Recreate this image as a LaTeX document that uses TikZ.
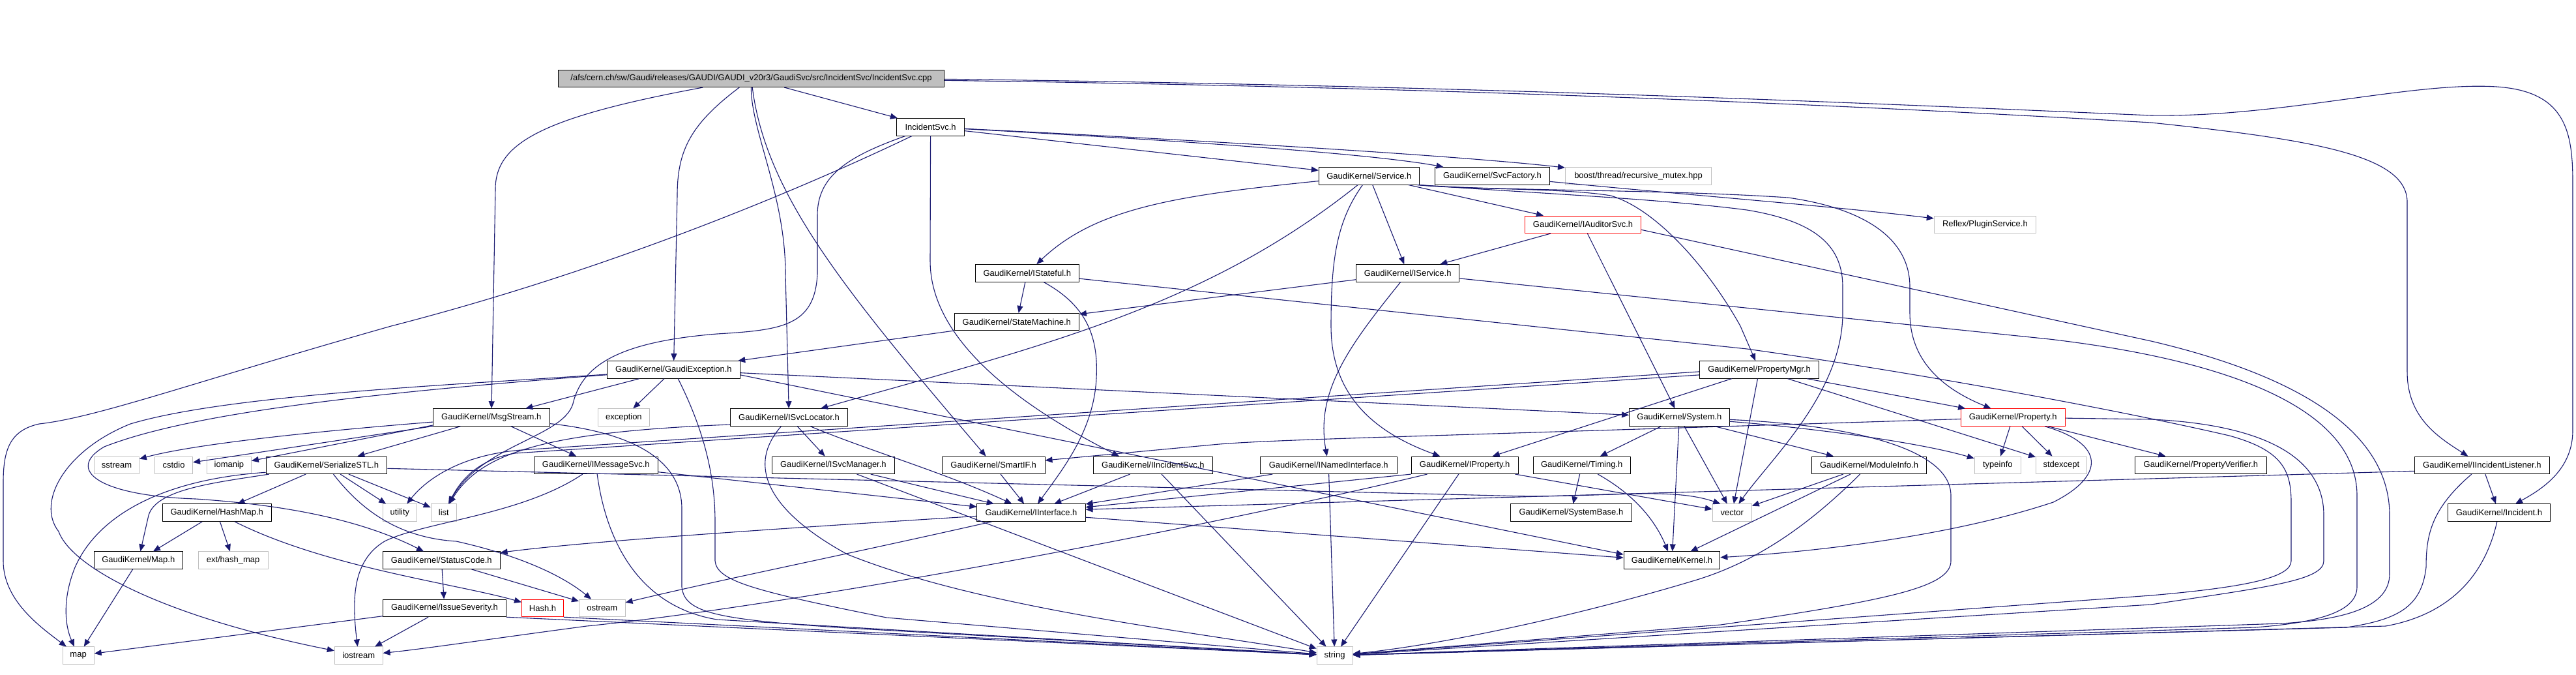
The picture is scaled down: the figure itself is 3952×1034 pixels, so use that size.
\documentclass[tikz,border=0pt]{standalone}
\usepackage{fontspec}
\setmainfont{Liberation Sans}
\usetikzlibrary{arrows.meta}
\definecolor{edgec}{HTML}{191970}
\definecolor{sysgray}{HTML}{BFBFBF}
\newcommand\nodefont{\fontsize{13}{15}\selectfont}
\begin{document}
\begin{tikzpicture}[x=1pt,y=-1pt,
  nd/.style={draw=black, line width=1pt, rectangle, minimum height=26.5pt, inner xsep=1pt, inner ysep=0pt, font=\nodefont},
  sysn/.style={nd, draw=sysgray},
  trn/.style={nd, draw=red},
  edg/.style={draw=edgec, line width=1.1pt, -{Triangle[length=11pt,width=9pt]}}]
\fill[white] (0,0) rectangle (3952,1034);
\useasboundingbox (0,0) rectangle (3952,1034);

% ---------- nodes ----------
\node[nd, fill=sysgray, minimum width=592pt] (root) at (1152.5,120.3) {/afs/cern.ch/sw/Gaudi/releases/GAUDI/GAUDI\_v20r3/GaudiSvc/src/IncidentSvc/IncidentSvc.cpp};
\node[nd, minimum width=103.6pt] (incsvch) at (1427.6,194.8) {IncidentSvc.h};
\node[nd, minimum width=154pt] (service) at (2100.3,269.8) {GaudiKernel/Service.h};
\node[nd, minimum width=175.9pt] (svcfactory) at (2289.4,269.8) {GaudiKernel/SvcFactory.h};
\node[sysn, minimum width=224.1pt] (boost) at (2513.5,269.8) {boost/thread/recursive\_mutex.hpp};
\node[trn, minimum width=178.1pt] (iauditor) at (2428.5,344.3) {GaudiKernel/IAuditorSvc.h};
\node[sysn, minimum width=156.3pt] (reflex) at (3045.4,344.3) {Reflex/PluginService.h};
\node[nd, minimum width=159pt] (istateful) at (1575.8,418.8) {GaudiKernel/IStateful.h};
\node[nd, minimum width=158.5pt] (iservice) at (2159.7,418.8) {GaudiKernel/IService.h};
\node[nd, minimum width=191.1pt] (statemachine) at (1559.8,493.7) {GaudiKernel/StateMachine.h};
\node[nd, minimum width=204pt] (gexc) at (1033.4,566.9) {GaudiKernel/GaudiException.h};
\node[nd, minimum width=183.7pt] (propmgr) at (2699.1,566.9) {GaudiKernel/PropertyMgr.h};
\node[nd, minimum width=178.5pt] (msgstream) at (753.8,640) {GaudiKernel/MsgStream.h};
\node[sysn, minimum width=78.6pt] (exception) at (956.9,640) {exception};
\node[nd, minimum width=180.3pt] (isvcloc) at (1210.5,640) {GaudiKernel/ISvcLocator.h};
\node[nd, minimum width=153.6pt] (system) at (2576.4,640) {GaudiKernel/System.h};
\node[trn, minimum width=159.8pt] (property) at (3088.2,640) {GaudiKernel/Property.h};
\node[sysn, minimum width=68.8pt] (sstream) at (179,713.3) {sstream};
\node[sysn, minimum width=58pt] (cstdio) at (266.5,713.3) {cstdio};
\node[sysn, minimum width=67.9pt] (iomanip) at (351.4,713.3) {iomanip};
\node[nd, minimum width=185.8pt] (serialize) at (500.9,713.3) {GaudiKernel/SerializeSTL.h};
\node[nd, minimum width=189.7pt] (imsgsvc) at (914.3,713.3) {GaudiKernel/IMessageSvc.h};
\node[nd, minimum width=187.6pt] (isvcmgr) at (1278.4,713.3) {GaudiKernel/ISvcManager.h};
\node[nd, minimum width=157.6pt] (smartif) at (1524.2,713.3) {GaudiKernel/SmartIF.h};
\node[nd, minimum width=182.6pt] (iincsvc) at (1768.9,713.3) {GaudiKernel/IIncidentSvc.h};
\node[nd, minimum width=209.6pt] (inamed) at (2038.2,713.3) {GaudiKernel/INamedInterface.h};
\node[nd, minimum width=163.8pt] (iproperty) at (2247.2,713.3) {GaudiKernel/IProperty.h};
\node[nd, minimum width=148.7pt] (timing) at (2426.7,713.3) {GaudiKernel/Timing.h};
\node[nd, minimum width=176.3pt] (moduleinfo) at (2867.5,713.3) {GaudiKernel/ModuleInfo.h};
\node[sysn, minimum width=71pt] (typeinfo) at (3064.8,713.3) {typeinfo};
\node[sysn, minimum width=77.7pt] (stdexcept) at (3162.4,713.3) {stdexcept};
\node[nd, minimum width=202.2pt] (propverif) at (3376.4,713.3) {GaudiKernel/PropertyVerifier.h};
\node[nd, minimum width=206.6pt] (iinclistener) at (3807.9,713.3) {GaudiKernel/IIncidentListener.h};
\node[nd, minimum width=167.4pt] (hashmap) at (332.8,786.2) {GaudiKernel/HashMap.h};
\node[sysn, minimum width=51.8pt] (utility) at (613.4,786.2) {utility};
\node[sysn, minimum width=39.4pt] (list) at (680.9,786.2) {list};
\node[nd, minimum width=166.1pt] (iinterface) at (1582,786.2) {GaudiKernel/IInterface.h};
\node[nd, minimum width=185.7pt] (systembase) at (2410.4,786.2) {GaudiKernel/SystemBase.h};
\node[sysn, minimum width=60pt] (vector) at (2657.3,786.2) {vector};
\node[nd, minimum width=157.2pt] (incident) at (3833.9,786.2) {GaudiKernel/Incident.h};
\node[nd, minimum width=136.2pt] (mapH) at (212.3,859.2) {GaudiKernel/Map.h};
\node[sysn, minimum width=107.2pt] (exthash) at (357.6,859.2) {ext/hash\_map};
\node[nd, minimum width=179.6pt] (statuscode) at (677.3,859.2) {GaudiKernel/StatusCode.h};
\node[nd, minimum width=147.7pt] (kernel) at (2565,859.2) {GaudiKernel/Kernel.h};
\node[nd, minimum width=189pt] (issue) at (682,932.5) {GaudiKernel/IssueSeverity.h};
\node[trn, minimum width=63.9pt] (hash) at (832.5,932.5) {Hash.h};
\node[sysn, minimum width=70.5pt] (ostream) at (923.8,932.5) {ostream};
\node[sysn, minimum width=48.2pt] (map) at (120.1,1005.2) {map};
\node[sysn, minimum width=73.7pt] (iostream) at (550.2,1005.2) {iostream};
\node[sysn, minimum width=54.9pt] (string) at (2047.6,1005.2) {string};

% ---------- edges ----------
% root
\draw[edg] (root) .. controls (830,180) and (760,220) .. (760,290) -- (msgstream);
\draw[edg] (root) .. controls (1060,190) and (1039,230) .. (1039,300) -- (gexc);
\draw[edg] (root) .. controls (1152,200) and (1205,300) .. (1205,420) -- (isvcloc);
\draw[edg] (root) .. controls (1175,300) and (1300,450) .. (smartif);
\draw[edg] (root) -- (incsvch);
\draw[edg] ([yshift=-3pt]root.east) .. controls (2300,135) and (2900,165) .. (3300,188) .. controls (3560,215) and (3693,240) .. (3693,310) -- (3693,570) .. controls (3693,640) and (3740,670) .. (iinclistener);
\draw[edg] ([yshift=-1pt]root.east) .. controls (2300,132) and (2900,160) .. (3300,177) .. controls (3500,180) and (3700,125) .. (3830,133) .. controls (3935,140) and (3947,200) .. (3947,280) -- (3947,660) .. controls (3947,720) and (3900,750) .. (incident);
% IncidentSvc.h
\draw[edg] (incsvch) .. controls (1250,280) and (950,410) .. (600,500) .. controls (300,585) and (150,640) .. (60,650) .. controls (15,660) and (5,690) .. (5,740) -- (5,860) .. controls (5,920) and (60,960) .. (map);
\draw[edg] (incsvch) .. controls (1300,240) and (1254,270) .. (1254,330) -- (1254,420) .. controls (1250,500) and (1200,506) .. (1100,512) .. controls (950,524) and (895,560) .. (880,615) .. controls (870,670) and (740,680) .. (list);
\draw[edg] (incsvch) -- (1427,400) .. controls (1427,520) and (1560,620) .. ([xshift=-52pt]iincsvc.north);
\draw[edg] (incsvch) -- (service);
\draw[edg] (incsvch) .. controls (1800,215) and (2100,235) .. (svcfactory);
\draw[edg] (incsvch) .. controls (1900,218) and (2250,240) .. (boost);
% Service.h
\draw[edg] (service) .. controls (1800,300) and (1680,320) .. (istateful);
\draw[edg] (service) .. controls (1850,470) and (1600,530) .. (isvcloc);
\draw[edg] (service) .. controls (2050,340) and (2042,400) .. (2042,500) .. controls (2042,600) and (2100,660) .. (iproperty);
\draw[edg] (service) -- (iservice);
\draw[edg] (service) -- (iauditor);
\draw[edg] ([xshift=-4pt]service.south east) .. controls (2250,291) and (2400,288) .. (2471,300) .. controls (2540,320) and (2620,410) .. (2670,500) -- (propmgr);
\draw[edg] ([xshift=-2pt]service.south east) .. controls (2300,293) and (2550,290) .. (2743,303) .. controls (2850,318) and (2930,360) .. (2930,440) -- (2930,480) .. controls (2930,560) and (2990,600) .. (property);
\draw[edg] (service.south east) .. controls (2350,296) and (2550,305) .. (2680,322) .. controls (2790,340) and (2827,380) .. (2827,440) -- (2827,480) .. controls (2827,600) and (2720,700) .. (vector);
\draw[edg] (svcfactory) .. controls (2600,300) and (2800,315) .. (reflex);
% IAuditorSvc.h
\draw[edg] (iauditor) -- (iservice);
\draw[edg] (iauditor) -- (system);
\draw[edg] ([yshift=-8pt]iauditor.east) -- (3300,523) .. controls (3500,570) and (3666,650) .. (3666,790) -- (3666,880) .. controls (3666,930) and (3600,950) .. (3500,956) -- (string);
% IService.h
\draw[edg] (iservice) .. controls (2070,530) and (2018,600) .. (inamed);
\draw[edg] (iservice) -- (statemachine);
\draw[edg] (iservice) -- (3144,520) .. controls (3400,550) and (3616,620) .. (3616,760) -- (3616,900) .. controls (3616,940) and (3550,955) .. (3460,962) -- (string);
% IStateful.h
\draw[edg] (istateful) -- (statemachine);
\draw[edg] (istateful) .. controls (1670,470) and (1685,520) .. (1682,580) .. controls (1678,660) and (1630,720) .. (iinterface);
\draw[edg] (istateful) -- (2680,535) .. controls (3000,580) and (3300,640) .. (3420,668) .. controls (3500,690) and (3515,720) .. (3515,770) -- (3515,860) .. controls (3515,885) and (3450,900) .. (3300,913) -- (string);
% StateMachine.h
\draw[edg] (statemachine) -- (gexc);
% GaudiException.h
\draw[edg] (gexc) -- (msgstream);
\draw[edg] (gexc) -- (exception);
\draw[edg] (gexc) .. controls (1075,650) and (1097,720) .. (1097,800) -- (1097,860) .. controls (1100,890) and (1150,905) .. (1360,947) -- (string);
\draw[edg] (gexc) .. controls (700,590) and (350,605) .. (200,650) .. controls (100,690) and (55,770) .. (90,815) .. controls (110,870) and (250,945) .. (iostream);
\draw[edg] (gexc) .. controls (600,600) and (300,630) .. (160,685) .. controls (100,720) and (150,760) .. (300,765) .. controls (450,775) and (560,800) .. (statuscode);
\draw[edg] (gexc) -- (system);
\draw[edg] ([yshift=-8pt]gexc.east) -- ([yshift=9pt]kernel.west);
% MsgStream.h
\draw[edg] (msgstream) .. controls (500,660) and (300,680) .. (sstream);
\draw[edg] (msgstream) -- (cstdio);
\draw[edg] ([yshift=-12pt]msgstream.west) -- (iomanip);
\draw[edg] (msgstream) -- (serialize);
\draw[edg] (msgstream) -- (imsgsvc);
\draw[edg] (msgstream) .. controls (960,662) and (1046,700) .. (1046,780) -- (1046,900) .. controls (1050,940) and (1100,950) .. (1300,963) -- (string);
% ISvcLocator.h
\draw[edg] (isvcloc) -- (isvcmgr);
\draw[edg] (isvcloc) .. controls (1330,690) and (1450,725) .. (iinterface);
\draw[edg] (isvcloc) .. controls (1140,720) and (1190,790) .. (1300,850) .. controls (1500,930) and (1800,965) .. (string);
\draw[edg] ([yshift=-11pt]isvcloc.west) .. controls (850,662) and (740,690) .. (list);
% ISvcManager.h
\draw[edg] (isvcmgr) -- (iinterface);
\draw[edg] (isvcmgr) -- (string);
% SmartIF.h, IIncidentSvc.h, INamedInterface.h
\draw[edg] (smartif) -- (iinterface);
\draw[edg] (iincsvc) -- (iinterface);
\draw[edg] (iincsvc) -- (string);
\draw[edg] (inamed) -- (iinterface);
\draw[edg] (inamed) -- (string);
% IProperty.h
\draw[edg] (iproperty.south west) -- (iinterface);
\draw[edg] (iproperty) -- (string);
\draw[edg] (iproperty) .. controls (1800,820) and (1200,930) .. (900,960) .. controls (750,980) and (650,995) .. (iostream);
\draw[edg] (iproperty) -- (vector);
% Timing.h
\draw[edg] (timing) -- (systembase);
\draw[edg] (timing) .. controls (2510,760) and (2540,800) .. (kernel);
% System.h
\draw[edg] (system) -- (timing);
\draw[edg] (system) -- (kernel);
\draw[edg] (system) -- (vector);
\draw[edg] (system) -- (moduleinfo);
\draw[edg] (system) .. controls (2800,658) and (2950,680) .. (typeinfo);
\draw[edg] (system) .. controls (2850,652) and (2993,690) .. (2993,760) -- (2993,860) .. controls (2993,900) and (2900,920) .. (2640,958) -- (string);
% ModuleInfo.h
\draw[edg] (moduleinfo) -- (vector);
\draw[edg] (moduleinfo) -- (kernel);
\draw[edg] (moduleinfo) .. controls (2780,800) and (2700,860) .. (2600,890) .. controls (2400,950) and (2200,990) .. (string);
% Property.h
\draw[edg] (property) -- (typeinfo);
\draw[edg] (property) -- (stdexcept);
\draw[edg] (property) -- (propverif);
\draw[edg] (property) .. controls (3230,680) and (3230,730) .. (3150,770) .. controls (3000,820) and (2800,845) .. (kernel);
\draw[edg] (property) -- (3300,643) .. controls (3450,650) and (3565,690) .. (3565,790) -- (3565,860) .. controls (3565,890) and (3480,900) .. (3300,927) -- (string);
\draw[edg] (property) -- (2100,671) .. controls (1980,675) and (1900,678) .. (1860,682) -- (smartif);
% PropertyMgr.h
\draw[edg] (propmgr) -- (property);
\draw[edg] (propmgr) -- (stdexcept);
\draw[edg] (propmgr) -- (vector);
\draw[edg] (propmgr) -- (iproperty);
\draw[edg] ([yshift=-3pt]propmgr.west) -- (800,690) .. controls (700,698) and (650,740) .. (utility);
\draw[edg] ([yshift=-8pt]propmgr.west) -- (790,695) .. controls (730,705) and (705,740) .. (list);
% IMessageSvc.h
\draw[edg] (imsgsvc) -- (iinterface);
\draw[edg] (imsgsvc) .. controls (930,830) and (980,930) .. (1100,950) -- (string);
\draw[edg] (imsgsvc) .. controls (800,790) and (650,800) .. (590,830) .. controls (540,860) and (540,920) .. (iostream);
% SerializeSTL.h
\draw[edg] (serialize) -- (hashmap);
\draw[edg] (serialize) .. controls (330,740) and (240,750) .. (228,790) -- (mapH);
\draw[edg] ([yshift=-11pt]serialize.west) .. controls (250,735) and (150,790) .. (115,870) .. controls (95,920) and (100,960) .. (map);
\draw[edg] (serialize) -- (utility);
\draw[edg] (serialize) -- (list);
\draw[edg] ([yshift=-5pt]serialize.east) -- (2300,760) .. controls (2450,765) and (2560,745) .. ([xshift=-18pt]vector.north);
\draw[edg] (serialize) .. controls (560,790) and (620,825) .. (700,830) .. controls (790,850) and (860,880) .. (ostream);
% HashMap.h, Map.h
\draw[edg] (hashmap) -- (mapH);
\draw[edg] (hashmap) -- (exthash);
\draw[edg] (hashmap) .. controls (500,870) and (700,895) .. (hash);
\draw[edg] (mapH) -- (map);
% StatusCode.h, IssueSeverity.h, Hash.h
\draw[edg] (statuscode) -- (issue);
\draw[edg] (statuscode) -- (ostream);
\draw[edg] (issue) -- (map);
\draw[edg] (issue) -- (iostream);
\draw[edg] (issue.south east) -- (string);
\draw[edg] (hash.south east) -- (string);
% IInterface.h
\draw[edg] (iinterface) .. controls (1200,810) and (900,830) .. (statuscode);
\draw[edg] ([yshift=-7pt]iinterface.east) -- ([yshift=4pt]kernel.west);
\draw[edg] (iinterface) .. controls (1300,850) and (1100,890) .. (ostream);
% IIncidentListener.h, Incident.h
\draw[edg] (iinclistener) -- (incident);
\draw[edg] ([yshift=-9pt]iinclistener.west) -- ([yshift=5pt]iinterface.east);
\draw[edg] (iinclistener) .. controls (3730,780) and (3722,820) .. (3722,870) .. controls (3715,930) and (3680,950) .. (3600,962) -- (string);
\draw[edg] (incident) .. controls (3815,870) and (3770,940) .. (3660,960) -- (string);
\end{tikzpicture}
\end{document}
